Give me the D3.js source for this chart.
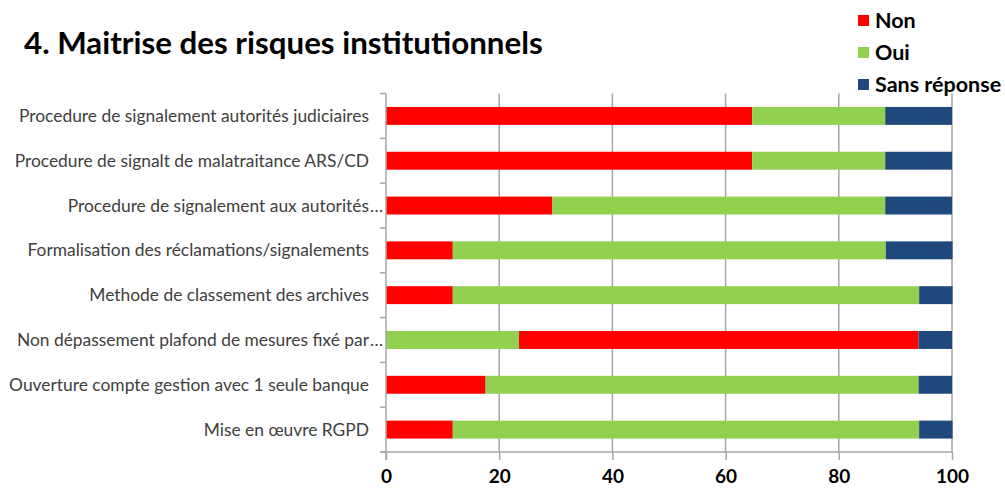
<!DOCTYPE html>
<html><head><meta charset="utf-8">
<script src="https://cdn.jsdelivr.net/npm/d3@7"></script>
<style>body{margin:0;background:#fff}svg{display:block}</style>
</head><body>
<script>
const categories = [
  "Procedure de signalement autorités judiciaires",
  "Procedure de signalt de malatraitance ARS/CD",
  "Procedure de signalement aux autorités…",
  "Formalisation des réclamations/signalements",
  "Methode de classement des archives",
  "Non dépassement plafond de mesures fixé par…",
  "Ouverture compte gestion avec 1 seule banque",
  "Mise en œuvre RGPD"
];
const seriesNames = ["Non", "Oui", "Sans réponse"];
const nonValues  = [64.7, 64.7, 29.4, 11.8, 11.8, 70.6, 17.6, 11.8];
const ouiValues  = [23.5, 23.5, 58.8, 76.5, 82.4, 23.5, 76.5, 82.4];
const sansValues = [11.8, 11.8, 11.8, 11.8, 5.9, 5.9, 5.9, 5.9];
// stacking order of segments per row (row 6 begins with "Oui")
const rowOrder = [
  ["Non","Oui","Sans réponse"],["Non","Oui","Sans réponse"],["Non","Oui","Sans réponse"],["Non","Oui","Sans réponse"],
  ["Non","Oui","Sans réponse"],["Oui","Non","Sans réponse"],["Non","Oui","Sans réponse"],["Non","Oui","Sans réponse"]
];
const xTicks = [0, 20, 40, 60, 80, 100];
const colors = {"Non":"#FF0000","Oui":"#92D050","Sans réponse":"#1F497D"};
const title = "4. Maitrise des risques institutionnels";

(function(){
const W = 1005, H = 493;
const FONT = "Lato, 'Open Sans', 'Liberation Sans', sans-serif";
const svg = d3.select("body").append("svg").attr("width", W).attr("height", H);

const pL = 386, pR = 952, pT = 93.5, pB = 452;
const x = d3.scaleLinear().domain([0, 100]).range([pL, pR]);
const y = d3.scaleBand().domain(categories).range([pT, pB]).paddingInner(0.6).paddingOuter(0.3);

const valuesBy = {"Non": nonValues, "Oui": ouiValues, "Sans réponse": sansValues};

// gridlines
svg.append("g").selectAll("line").data(xTicks.slice(1)).join("line")
  .attr("x1", d => x(d)).attr("x2", d => x(d)).attr("y1", pT).attr("y2", pB)
  .attr("stroke", "#A6A6A6").attr("stroke-width", 1.5);

// bars
const segs = [];
categories.forEach((c, i) => {
  let acc = 0;
  rowOrder[i].forEach(s => {
    const v = valuesBy[s][i];
    segs.push({c, s, x0: acc, x1: acc + v});
    acc += v;
  });
});
svg.append("g").selectAll("rect").data(segs).join("rect")
  .attr("x", d => x(d.x0)).attr("width", d => x(d.x1) - x(d.x0))
  .attr("y", d => y(d.c)).attr("height", y.bandwidth())
  .attr("fill", d => colors[d.s]);

// y axis
const yAxisG = svg.append("g").attr("transform", `translate(${pL},0)`);
yAxisG.append("line").attr("x1", 0).attr("x2", 0).attr("y1", pT).attr("y2", pB + 8)
  .attr("stroke", "#A6A6A6").attr("stroke-width", 1.5);
const step = (pB - pT) / categories.length;
yAxisG.selectAll("line.t").data(d3.range(categories.length + 1)).join("line").attr("class","t")
  .attr("x1", -6).attr("x2", 0).attr("y1", d => pT + d * step).attr("y2", d => pT + d * step)
  .attr("stroke", "#A6A6A6").attr("stroke-width", 1.5);
const isTrunc = d => d.endsWith("…");
yAxisG.selectAll("text.lbl").data(categories).join("text").attr("class", "lbl")
  .attr("x", -17).attr("y", d => y(d) + y.bandwidth() / 2).attr("dy", "0.35em")
  .attr("text-anchor", "end").attr("font-family", FONT).attr("font-size", 17.4).attr("fill", "#404040")
  .text(d => isTrunc(d) ? d.slice(0, -1) : d);
yAxisG.selectAll("text.ell").data(categories.filter(isTrunc)).join("text").attr("class", "ell")
  .attr("x", -16).attr("y", d => y(d) + y.bandwidth() / 2).attr("dy", "0.35em")
  .attr("text-anchor", "start").attr("font-family", FONT).attr("font-size", 17.4).attr("fill", "#404040")
  .text("…");

// x axis
const xAxis = d3.axisBottom(x).tickValues(xTicks).tickSize(8).tickPadding(10).tickFormat(d3.format("d"));
const xg = svg.append("g").attr("transform", `translate(0,${pB})`).call(xAxis);
xg.select(".domain").attr("stroke", "#A6A6A6").attr("stroke-width", 1.5).attr("d", `M${pL-6},0H${pR}`);
xg.selectAll(".tick line").attr("stroke", "#A6A6A6").attr("stroke-width", 1.5);
xg.selectAll(".tick text").attr("font-family", FONT).attr("font-size", 19).attr("font-weight", "bold").attr("fill", "#000");

// title
svg.append("text").attr("x", 24).attr("y", 54).attr("font-family", FONT)
  .attr("font-size", 31.3).attr("font-weight", "bold").attr("fill", "#000").text(title);

// legend
const lg = svg.append("g").selectAll("g").data(seriesNames).join("g")
  .attr("transform", (d, i) => `translate(858,${20 + i * 32})`);
lg.append("rect").attr("x", 0).attr("y", -5).attr("width", 11).attr("height", 11).attr("fill", d => colors[d]);
lg.append("text").attr("x", 17).attr("y", 0).attr("dy", "0.35em").attr("font-family", FONT)
  .attr("font-size", 21.5).attr("font-weight", "bold").attr("fill", "#000").text(d => d);
})();
</script>
</body></html>
